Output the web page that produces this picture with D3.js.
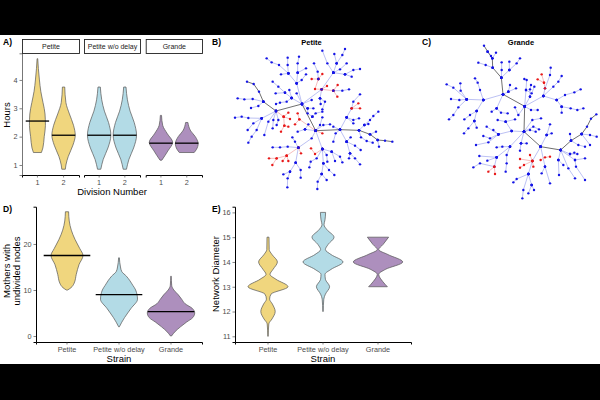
<!DOCTYPE html>
<html><head><meta charset="utf-8">
<script src="https://cdn.jsdelivr.net/npm/d3@7"></script>
<style>html,body{margin:0;padding:0;background:#fff}svg{display:block}text{font-family:"Liberation Sans",Arial,sans-serif}</style>
</head><body><svg id="c" width="600" height="400"></svg>
<script>
const strains=["Petite","Petite w/o delay","Grande"];
const divisions=[1,2];
const colors=["#f0d67e","#b3dbe6","#ad8fbd"];
const hoursTicks=[1,2,3,4], motherTicks=[0,10,20], diameterTicks=[11,12,13,14,15,16];

// violin profiles: [value, relative density]
const a1=[[1.44,.5],[1.6,.68],[2,.85],[2.4,1],[2.8,.95],[3.2,.7],[3.6,.42],[4,.25],[4.4,.12],[4.75,.04]];
const a2=[[.85,.15],[1,.2],[1.3,.4],[1.7,.8],[2.05,1],[2.4,.85],[2.8,.5],[3.2,.2],[3.75,.1]];
const a3=[[.85,.14],[1.2,.35],[1.6,.75],[2.05,1],[2.5,.8],[2.9,.45],[3.3,.22],[3.75,.1]];
const a4=[[.85,.14],[1.2,.35],[1.6,.75],[2.05,1],[2.5,.8],[2.9,.45],[3.3,.22],[3.75,.1]];
const a5=[[1.17,.08],[1.5,.6],[1.8,1],[2.1,.55],[2.4,.15],[2.75,.05]];
const a6=[[1.44,.65],[1.55,.85],[1.75,1],[2,.75],[2.2,.35],[2.5,.1]];
const hoursMedians=[2.55,2.05,2.05,2.05,1.77,1.77];
const d1=[[10,.04],[10.5,.25],[11.5,.45],[13.4,.58],[15.5,.75],[17.5,1],[19,.8],[21,.5],[23,.27],[25,.14],[27,.1]];
const d2=[[2,.02],[3,.15],[4,.3],[6,.65],[8,1],[10,.9],[11,.75],[13,.4],[14,.15],[15,.08],[17,.02]];
const d3v=[[0,.02],[1,.18],[2,.4],[3,.65],[4,.92],[5,1],[6,.9],[7,.6],[8,.45],[9,.3],[10,.12],[11,.03],[13,.01]];
const motherMedians=[17.5,9,5.3];
const e1=[[11,.01],[11.5,.04],[11.7,.2],[12,.36],[12.3,.22],[12.5,.08],[12.7,.15],[13,1],[13.3,.4],[13.5,.1],[13.7,.25],[14,.47],[14.3,.2],[14.5,.06],[15,.05]];
const e2=[[12,.01],[12.5,.04],[12.7,.12],[13,.33],[13.3,.12],[13.5,.1],[13.7,.4],[14,1],[14.3,.4],[14.5,.12],[14.7,.25],[15,.55],[15.3,.2],[15.5,.05],[15.7,.1],[16,.13]];
const e3=[[13,.38],[13.2,.2],[13.5,.03],[13.7,.3],[14,1],[14.3,.4],[14.5,.03],[14.7,.2],[15,.43]];

// lineage trees (layout units)
const bTrunk=[[[126,155],[146,162],[162,185],[175,215],[213,243],[291,222],[332,302],[405,299],[462,301],[495,313],[518,330],[540,332],[562,335]]];
const bBlue=[
[[291,222],[275,160],[250,130],[222,105],[200,97],[185,85]],[[250,130],[248,105],[248,83]],[[275,160],[278,128],[278,100],[282,80]],[[275,160],[290,150],[303,133]],[[278,128],[303,115]],[[250,130],[228,133]],
[[291,222],[350,178],[385,128],[367,100],[352,62]],[[385,128],[395,100],[412,75],[420,57]],[[395,100],[388,72]],[[385,128],[405,118],[425,100]],[[385,128],[420,133],[445,120],[465,117]],[[420,133],[440,140]],
[[340,147],[338,125],[327,100]],[[385,182],[412,182],[432,178]],[[350,178],[345,205],[360,215],[352,238]],[[345,205],[347,222]],
[[291,222],[260,204],[240,188],[212,190]],[[240,188],[220,170],[203,155]],[[260,204],[253,180]],[[260,204],[245,215],[225,218],[213,222]],[[291,222],[275,190]],
[[291,222],[308,235],[325,235]],[[308,235],[308,250],[322,260]],[[322,260],[332,250],[352,245]],[[291,222],[320,210]],
[[213,243],[170,265],[130,264],[110,260],[90,263]],[[170,265],[145,280],[128,300]],[[170,265],[155,300],[140,320],[130,338]],[[213,243],[190,275],[178,315]],[[213,243],[205,270],[203,295]],[[213,243],[220,270],[215,285]],
[[175,215],[143,207],[118,208],[98,205]],[[175,215],[160,228],[138,234]],
[[332,302],[355,285],[375,283]],[[332,302],[345,285],[352,262]],[[332,302],[300,298],[278,305]],[[300,298],[310,283]],
[[332,302],[320,325],[280,353],[248,350],[225,352],[203,352]],[[280,353],[270,335],[262,322]],[[280,353],[272,398],[255,425],[235,433]],[[255,425],[248,445],[247,472]],[[272,398],[287,420],[287,443]],
[[332,302],[352,357],[355,400],[350,432],[338,455],[337,477]],[[350,432],[365,450]],[[355,400],[372,420],[388,435]],[[352,357],[380,365],[405,380],[412,397]],[[380,365],[390,393]],[[352,357],[365,375],[367,395]],[[352,357],[335,385],[317,395],[313,412]],
[[405,299],[425,262],[440,235],[445,215],[465,193]],[[425,262],[445,270],[462,265]],[[425,262],[445,280]],[[405,299],[392,310],[385,335]],[[405,299],[385,290]],[[405,299],[425,335],[435,370],[450,385],[465,403]],[[425,335],[450,347],[467,360]],[[435,370],[432,385]],[[425,335],[437,322]],
[[462,301],[478,285],[495,270],[505,258],[520,245]],[[478,285],[490,282]],[[462,301],[468,322],[485,333],[503,338]],[[495,313],[513,305]],[[518,330],[522,350]]];
const bRed=[
[[350,178],[330,177],[340,147],[352,132]],[[340,147],[320,147]],[[350,178],[366,168]],[[350,178],[385,182],[398,165]],[[385,182],[397,200]],
[[213,243],[236,260],[250,248]],[[236,260],[255,267]],[[236,260],[238,287],[228,305]],[[238,287],[250,290]],
[[332,302],[283,268],[278,250]],[[283,268],[270,283]],[[332,302],[352,310]],
[[280,353],[245,377],[215,385],[192,385]],[[215,385],[202,405]],[[245,377],[233,393]],[[245,377],[250,393]],[[280,353],[288,370]],
[[352,357],[330,372],[318,355]],[[440,235],[460,220]],[[440,235],[465,235]]];

const cTrunk=[[[207,47],[218,65],[232,85],[233,113],[259,143],[264,193],[329,229],[327,305],[377,350],[437,360],[468,332],[500,312],[516,290],[528,266],[544,253]]];
const cBlue=[
[[218,65],[228,78]],[[232,85],[243,68]],[[233,113],[212,105],[190,98]],[[259,143],[260,120],[260,97]],[[259,143],[283,120],[283,95]],[[283,120],[305,100],[315,85]],
[[264,193],[280,185],[303,175]],[[280,185],[285,165]],[[264,193],[205,210],[155,208],[133,210],[108,207]],[[155,208],[137,182],[136,160]],[[155,208],[115,173],[95,163]],[[155,208],[130,232],[115,255],[102,268]],
[[205,210],[195,180],[188,158],[180,145]],[[205,210],[185,243],[178,273],[160,295],[147,310]],[[185,243],[165,255],[148,268]],[[178,273],[185,293]],
[[264,193],[245,235],[230,245]],[[245,235],[258,248],[278,250]],
[[329,229],[333,180],[335,150],[328,147]],[[333,180],[350,190],[358,170]],[[345,200],[345,178],[348,165]],[[329,229],[345,200]],
[[329,229],[385,198],[390,175],[405,135],[407,113]],[[385,198],[415,170],[430,155],[440,138]],[[385,198],[425,210],[450,195],[478,187],[497,178]],[[425,210],[440,230],[467,235],[487,240],[505,235]],[[440,230],[440,248]],
[[329,229],[348,240],[368,240]],[[329,229],[310,255],[300,232]],
[[327,305],[290,303],[272,275],[248,270]],[[272,275],[300,268]],[[290,303],[250,313],[215,290]],[[250,313],[235,300]],[[250,313],[225,325],[205,318]],[[250,313],[220,337],[183,345]],
[[327,305],[352,270],[378,265]],[[327,305],[355,290],[372,298]],[[327,305],[345,300],[362,305]],
[[327,305],[285,350],[245,382],[193,378]],[[285,350],[262,350],[245,352]],[[285,350],[275,375],[275,400],[272,425]],[[245,382],[217,392]],[[245,382],[238,410],[195,400],[175,412]],
[[327,305],[318,340],[315,362]],[[318,340],[335,340]],
[[377,350],[395,315],[405,283]],[[395,315],[410,310]],[[377,350],[352,393],[340,432],[325,480],[322,505]],[[340,432],[305,447],[295,457]],[[340,432],[350,465],[340,490]],[[350,465],[357,480]],[[377,350],[390,410],[380,430]],[[390,410],[405,460]],
[[437,360],[430,390],[432,435]],[[430,390],[445,405]],[[437,360],[480,390],[483,410],[510,450]],[[480,390],[510,385]],[[437,360],[465,372],[487,372]],[[465,372],[478,368]],[[468,332],[490,345],[510,350]],[[468,332],[465,312]],[[500,312],[525,315],[545,320]],[[500,312],[525,345]],[[437,360],[460,415],[480,445]]];
const cRed=[
[[390,175],[387,158],[380,133]],[[387,158],[368,148]],[[238,410],[220,425]],[[238,410],[240,432]],
[[352,393],[345,375]],[[352,393],[315,387]],[[352,393],[327,405],[315,413]],[[352,393],[355,410]],[[377,390],[390,382],[405,380]]];

const svg=d3.select("#c");
const FONT_TICK=7.3, GREY="#4d4d4d";
const intFmt=d3.format("d");
svg.append("rect").attr("width",600).attr("height",35).attr("fill","#000");
svg.append("rect").attr("y",364).attr("width",600).attr("height",36).attr("fill","#000");

function text(x,y,s,o={}){
  const t=svg.append("text").attr("x",x).attr("y",y).text(s)
    .attr("font-size",o.size||9).attr("fill",o.fill||"#000").attr("text-anchor",o.anchor||"middle");
  if(o.bold)t.attr("font-weight","bold");
  if(o.rot)t.attr("transform",`rotate(-90 ${x} ${y})`);
  return t;
}
function styleAxis(g,axisColor){
  g.selectAll("text").attr("font-size",FONT_TICK).attr("fill",GREY);
  g.selectAll("line").attr("stroke","#333").attr("stroke-width",.6);
  g.select(".domain").attr("stroke",axisColor||"#000").attr("stroke-width",1);
}
function violin(x,y,cx,prof,hw,fill){
  const w=d3.scaleLinear().domain([0,1]).range([0,hw]);
  const area=d3.area().y(d=>y(d[0])).x0(d=>cx-w(d[1])).x1(d=>cx+w(d[1])).curve(d3.curveMonotoneY);
  svg.append("path").attr("d",area(prof)+"Z").attr("fill",fill).attr("stroke","#555").attr("stroke-width",.7);
}
function median(cx,y,v,hw){
  svg.append("line").attr("x1",cx-hw).attr("x2",cx+hw).attr("y1",y(v)).attr("y2",y(v)).attr("stroke","#000").attr("stroke-width",1.3);
}

// Panel A
const yA=d3.scaleLinear().domain([.647,4.94]).range([175,53.3]);
const facetRanges=[[22,79],[84,140],[145.7,202]];
const aProfiles=[a1,a2,a3,a4,a5,a6], aHalf=[8,11.7,11.7,11.7,11.7,11.4], medHalf=[11.7,11.7,11.7,11.7,11.7,11.7];
styleAxis(svg.append("g").attr("transform","translate(22,0)").call(d3.axisLeft(yA).tickValues(hoursTicks).tickFormat(intFmt).tickSize(2.5).tickPadding(2)),"#777");
facetRanges.forEach((r,i)=>{
  const xb=d3.scaleBand().domain(divisions).range(r).paddingOuter(.09).paddingInner(0);
  styleAxis(svg.append("g").attr("transform","translate(0,175)").call(d3.axisBottom(xb).tickSize(2.5).tickPadding(2)));
  svg.append("rect").attr("x",r[0]+.5).attr("y",39.5).attr("width",r[1]-r[0]).attr("height",14).attr("fill","#fff").attr("stroke","#222").attr("stroke-width",.9);
  text((r[0]+r[1])/2+.5,49,strains[i],{size:7,fill:"#222"});
  divisions.forEach((d,j)=>{
    const k=i*2+j, cx=xb(d)+xb.bandwidth()/2;
    violin(xb,yA,cx,aProfiles[k],aHalf[k],colors[i]);
    median(cx,yA,hoursMedians[k],medHalf[k]);
  });
});
text(3,45,"A)",{anchor:"start",size:8.5,bold:true});
text(9.5,115,"Hours",{rot:true,size:9.5});
text(112,195,"Division Number",{size:9.5});

// Panel D
const yD=d3.scaleLinear().domain([-1.3,28.1]).range([342,206.7]);
const xD=d3.scaleBand().domain(strains).range([36,202]).paddingOuter(.096).paddingInner(0);
styleAxis(svg.append("g").attr("transform","translate(36,0)").call(d3.axisLeft(yD).tickValues(motherTicks).tickFormat(intFmt).tickSize(2.5).tickPadding(2)));
styleAxis(svg.append("g").attr("transform","translate(0,342)").call(d3.axisBottom(xD).tickSize(2.5).tickPadding(2)));
[d1,d2,d3v].forEach((p,i)=>{
  const cx=xD(strains[i])+xD.bandwidth()/2;
  violin(xD,yD,cx,p,[16,18.5,23.7][i],colors[i]);
  median(cx,yD,motherMedians[i],23.3);
});
text(3,212,"D)",{anchor:"start",size:8.5,bold:true});
text(10,271,"Mothers with",{rot:true,size:9.5});
text(20,271,"undivided nodes",{rot:true,size:9.5});
text(119,362,"Strain",{size:9.5});

// Panel E
const yE=d3.scaleLinear().domain([10.77,16.23]).range([342,206.7]);
const xE=d3.scaleBand().domain(strains).range([235,411]).paddingOuter(.1).paddingInner(0);
styleAxis(svg.append("g").attr("transform","translate(235,0)").call(d3.axisLeft(yE).tickValues(diameterTicks).tickFormat(intFmt).tickSize(2.5).tickPadding(2)));
styleAxis(svg.append("g").attr("transform","translate(0,342)").call(d3.axisBottom(xE).tickSize(2.5).tickPadding(2)));
[e1,e2,e3].forEach((p,i)=>{
  const cx=xE(strains[i])+xE.bandwidth()/2;
  violin(xE,yE,cx,p,[20,20,24.7][i],colors[i]);
});
text(212,212,"E)",{anchor:"start",size:8.5,bold:true});
text(219,274,"Network Diameter",{rot:true,size:9.5});
text(323,362,"Strain",{size:9.5});

// Trees
function tree(blue,red,trunk,x0,y0){
  const sx=d3.scaleLinear().domain([0,600]).range([x0,x0+200]);
  const sy=d3.scaleLinear().domain([0,600]).range([y0,y0+200]);
  const line=d3.line().x(d=>sx(d[0])).y(d=>sy(d[1]));
  const draw=(set,col,w)=>svg.append("g").selectAll("path").data(set).join("path").attr("d",line).attr("fill","none").attr("stroke",col).attr("stroke-width",w);
  draw(blue,"#b4baf2",.9); draw(red,"#f5b5b5",.9); draw(trunk,"#707070",1);
  const dots=(set,col)=>svg.append("g").selectAll("circle").data(set.flat()).join("circle").attr("cx",d=>sx(d[0])).attr("cy",d=>sy(d[1])).attr("r",1.2).attr("fill",col);
  dots(blue.concat(trunk),"#1414e6"); dots(red,"#e81818");
  dots(blue.map(b=>b.slice(0,1)),"#1414e6");
}
tree(bBlue,bRed,bTrunk,205,30);
tree(cBlue,cRed,cTrunk,415,30);
text(212,45,"B)",{anchor:"start",size:8.5,bold:true});
text(422,45,"C)",{anchor:"start",size:8.5,bold:true});
text(311.5,45,"Petite",{size:7.5,bold:true});
text(521,45,"Grande",{size:7.5,bold:true});
</script></body></html>
